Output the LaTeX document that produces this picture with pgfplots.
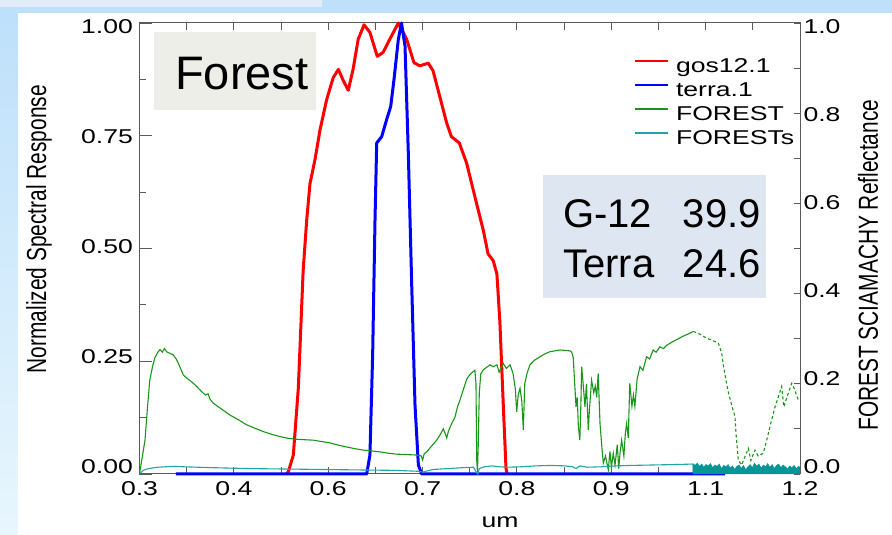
\documentclass[border=0pt]{standalone}
\usepackage{pgfplots}
\pgfplotsset{compat=1.18}
\usepackage{fontspec}
\setmainfont{Liberation Sans}
\newfontfamily\tickfont[FakeStretch=1.33]{Liberation Sans}
\newfontfamily\rotfont[FakeStretch=0.76]{Liberation Sans}
\definecolor{slideblue}{RGB}{190,224,250}
\definecolor{slidelight}{RGB}{232,246,253}
\definecolor{topstrip}{RGB}{226,236,246}
\definecolor{forestbox}{RGB}{238,238,232}
\definecolor{gbox}{RGB}{222,230,241}
\definecolor{fgreen}{RGB}{25,150,25}
\definecolor{fteal}{RGB}{30,165,165}
\definecolor{tealfill}{RGB}{0,150,150}
\definecolor{axgray}{RGB}{90,90,90}
\newcommand{\tf}{\tickfont\fontsize{20}{20}\selectfont}
\newcommand{\rf}{\rotfont\fontsize{27.5}{27.5}\selectfont}
\newcommand{\yl}[2]{\raisebox{#1}[0pt][0pt]{#2}}
\pgfplotsset{
  basestyle/.style={anchor=south west, scale only axis,
  width=660.5pt, height=451pt, xmin=0.3, xmax=1.2, ymin=0, ymax=1,
  tick style={axgray, line width=0.9pt}, tick align=inside},
}
\begin{document}
\begin{tikzpicture}
\fill[slideblue] (0pt,0pt) rectangle (892pt,535pt);
\shade[top color=slideblue, bottom color=slidelight] (0pt,0pt) rectangle (18pt,522pt);
\fill[topstrip] (0pt,528pt) rectangle (322pt,535pt);
\fill[white] (18pt,0pt) rectangle (892pt,522pt);
% main axis with data and x ticks
\begin{axis}[basestyle, at={(139.5pt,61pt)},
  clip=false, axis line style={axgray, line width=1pt},
  major tick length=7pt, minor tick length=7pt,
  xtick={0.3,0.428571,0.557143,0.685714,0.814286,0.942857,1.071429,1.2},
  xticklabels={0.3,0.4,0.6,0.7,0.8,0.9,1.1,1.2},
  minor xtick={0.364286,0.492857,0.621429,0.75,0.878571,1.007143,1.135714},
  ytick=\empty,
  xticklabel style={font=\tf, yshift=-4pt},
  xlabel={um}, xlabel style={font=\tf, at={(axis description cs:0.546,-0.106)}, anchor=center},
  legend style={at={(axis description cs:0.7487,0.925)}, anchor=north west, draw=none, fill=none,
    font=\tf, row sep=4pt, column sep=6pt, inner sep=0pt,
    nodes={inner sep=1pt, text height=14pt, text depth=4pt}},
  legend cell align=left,
  legend image code/.code={\draw[#1, line width=1.8pt] (0pt,6pt) -- (33pt,6pt);},
]
\addplot[red, line width=3pt, line join=round] coordinates {
(0.500,0) (0.5028,0.005) (0.5096,0.042) (0.5164,0.19) (0.523,0.451) (0.5278,0.5625) (0.5323,0.644)
(0.539,0.696) (0.546,0.763) (0.555,0.830) (0.564,0.879) (0.571,0.897) (0.578,0.871) (0.5845,0.851)
(0.591,0.897) (0.598,0.964) (0.606,0.996) (0.614,0.979) (0.624,0.926) (0.632,0.935) (0.641,0.964)
(0.6527,1.0) (0.664,0.964) (0.674,0.912) (0.682,0.905) (0.6935,0.911) (0.700,0.894) (0.709,0.838)
(0.7186,0.778) (0.725,0.748) (0.7358,0.734) (0.7458,0.689) (0.757,0.615) (0.7685,0.540) (0.775,0.488)
(0.782,0.473) (0.787,0.4435) (0.791,0.339) (0.7957,0.153) (0.7994,0.012) (0.801,0)
};
\addlegendentry{gos12.1}
\addplot[blue, line width=3pt, line join=round] coordinates {
(0.3497,0) (0.6096,0) (0.614,0.042) (0.6177,0.265) (0.6209,0.5625) (0.6232,0.734) (0.630,0.748)
(0.6368,0.786) (0.6423,0.815) (0.6468,0.875) (0.6527,0.964) (0.657,1.0) (0.6618,0.949) (0.6663,0.711)
(0.671,0.414) (0.6754,0.153) (0.680,0.02) (0.6845,0) (1.098,0)
};
\addlegendentry{terra.1}
\addplot[fgreen, line width=1.1pt] coordinates {
(0.300,0.000) (0.3040,0.040) (0.3075,0.075) (0.311,0.150) (0.314,0.208) (0.318,0.240) (0.321,0.258)
(0.325,0.270) (0.328,0.276) (0.331,0.270) (0.334,0.278) (0.337,0.271) (0.341,0.268) (0.346,0.264)
(0.350,0.255) (0.353,0.245) (0.3597,0.2195) (0.365,0.212) (0.372,0.203) (0.378,0.194) (0.385,0.182)
(0.390,0.175) (0.3935,0.178) (0.396,0.166) (0.4006,0.157) (0.410,0.146) (0.423,0.131) (0.435,0.120)
(0.446,0.109) (0.458,0.101) (0.4687,0.094) (0.480,0.088) (0.4914,0.083) (0.503,0.079) (0.514,0.077)
(0.525,0.076) (0.537,0.075) (0.548,0.072) (0.5596,0.069) (0.571,0.064) (0.582,0.060) (0.594,0.056)
(0.605,0.053) (0.617,0.051) (0.6277,0.049) (0.639,0.046) (0.650,0.044) (0.665,0.043) (0.6777,0.042)
(0.684,0.040) (0.6858,0.031) (0.688,0.045) (0.6913,0.049) (0.698,0.062) (0.705,0.075) (0.710,0.088)
(0.714,0.100) (0.7165,0.090) (0.7186,0.080) (0.721,0.095) (0.7254,0.112) (0.728,0.120) (0.730,0.127)
(0.7335,0.150) (0.7367,0.164) (0.741,0.186) (0.7458,0.210) (0.750,0.220) (0.754,0.226) (0.757,0.230)
(0.7585,0.200) (0.7595,0.030) (0.7605,0.005) (0.7615,0.060) (0.763,0.180) (0.765,0.222) (0.7685,0.231)
(0.7708,0.234) (0.7776,0.242) (0.782,0.238) (0.787,0.242) (0.790,0.226) (0.7957,0.245) (0.800,0.234)
(0.805,0.242) (0.809,0.223) (0.812,0.190) (0.814,0.138) (0.816,0.175) (0.8185,0.190) (0.821,0.160)
(0.823,0.098) (0.825,0.200) (0.828,0.223) (0.832,0.242) (0.838,0.252) (0.8457,0.260) (0.852,0.266)
(0.859,0.271) (0.866,0.273) (0.873,0.275) (0.880,0.274) (0.8866,0.273) (0.889,0.270) (0.891,0.258)
(0.893,0.200) (0.8948,0.149) (0.8965,0.170) (0.898,0.105) (0.900,0.075) (0.9015,0.160) (0.9025,0.238)
(0.905,0.190) (0.907,0.149) (0.909,0.200) (0.9115,0.098) (0.913,0.140) (0.916,0.208) (0.919,0.180)
(0.921,0.195) (0.923,0.170) (0.925,0.223) (0.9275,0.112) (0.930,0.060) (0.932,0.024) (0.935,0.040)
(0.9388,0.009) (0.941,0.050) (0.943,0.015) (0.9456,0.046) (0.948,0.020) (0.951,0.065) (0.953,0.012)
(0.955,0.050) (0.957,0.075) (0.960,0.040) (0.962,0.090) (0.9638,0.112) (0.966,0.080) (0.968,0.201)
(0.971,0.150) (0.973,0.175) (0.975,0.150) (0.978,0.210) (0.982,0.238) (0.986,0.230) (0.991,0.260)
(0.995,0.255) (1.000,0.275) (1.004,0.270) (1.009,0.282) (1.014,0.278) (1.018,0.285) (1.025,0.292)
(1.032,0.298) (1.040,0.305) (1.047,0.310) (1.0546,0.316)
};
\addlegendentry{FOREST}
\addplot[fteal, line width=1.1pt] coordinates {
(0.300,0.0) (0.305,0.008) (0.312,0.012) (0.325,0.015) (0.345,0.017) (0.36,0.016) (0.40,0.014)
(0.45,0.012) (0.50,0.011) (0.55,0.010) (0.60,0.009) (0.65,0.008) (0.68,0.006) (0.686,0.004)
(0.69,0.006) (0.70,0.010) (0.72,0.012) (0.74,0.014) (0.755,0.015) (0.759,0.004) (0.761,0.0)
(0.763,0.012) (0.77,0.016) (0.78,0.018) (0.79,0.016) (0.80,0.015) (0.82,0.016) (0.84,0.018)
(0.86,0.019) (0.88,0.018) (0.89,0.016) (0.895,0.012) (0.90,0.018) (0.91,0.015) (0.93,0.016)
(0.95,0.018) (0.97,0.019) (1.0,0.020) (1.03,0.021) (1.054,0.022)
};
\addlegendentry{FORESTs}
\addplot[fgreen, line width=1.1pt, dash pattern=on 3pt off 2.5pt, forget plot] coordinates {
(1.0546,0.316) (1.0614,0.312) (1.0729,0.301) (1.0797,0.297) (1.0887,0.290) (1.0933,0.268)
(1.0955,0.242) (1.0991,0.208) (1.1023,0.182) (1.1069,0.153) (1.1114,0.127) (1.1128,0.090)
(1.1159,0.031) (1.1205,0.020) (1.1296,0.057) (1.133,0.030) (1.1387,0.053) (1.143,0.040)
(1.150,0.046) (1.1546,0.075) (1.1614,0.120) (1.166,0.149) (1.1705,0.171) (1.175,0.194)
(1.178,0.149) (1.184,0.179) (1.1887,0.201) (1.192,0.190) (1.1977,0.164)
};
\addplot[draw=tealfill, fill=tealfill, line width=0.5pt, forget plot] coordinates {
(1.054,0) (1.054,0.023) (1.057,0.019) (1.060,0.024) (1.063,0.017) (1.066,0.022) (1.069,0.015)
(1.072,0.021) (1.075,0.018) (1.078,0.023) (1.081,0.014) (1.084,0.020) (1.087,0.017) (1.090,0.022)
(1.093,0.012) (1.096,0.019) (1.099,0.016) (1.102,0.021) (1.105,0.013) (1.108,0.018) (1.111,0.010)
(1.114,0.017) (1.117,0.020) (1.120,0.012) (1.123,0.019) (1.126,0.009) (1.129,0.016) (1.132,0.021)
(1.135,0.014) (1.138,0.024) (1.141,0.017) (1.144,0.022) (1.147,0.013) (1.150,0.020) (1.153,0.016)
(1.156,0.023) (1.159,0.015) (1.162,0.021) (1.165,0.012) (1.168,0.019) (1.171,0.022) (1.174,0.014)
(1.177,0.020) (1.180,0.016) (1.183,0.011) (1.186,0.018) (1.189,0.014) (1.192,0.019) (1.195,0.012)
(1.198,0.017) (1.2,0.015) (1.2,0)
} -- cycle;
\end{axis}
% left y axis
\begin{axis}[basestyle, at={(139.5pt,61pt)},
  hide x axis, axis y line*=left, axis line style={axgray, line width=1pt, -},
  major tick length=12pt, minor tick length=6pt,
  ytick={0,0.25,0.5,0.75,1},
  yticklabels={\yl{0pt}{0.00},\yl{-2.75pt}{0.25},\yl{-5.5pt}{0.50},\yl{-8.25pt}{0.75},\yl{-11pt}{1.00}},
  minor ytick={0.125,0.375,0.625,0.875},
  yticklabel style={font=\tf, anchor=east, xshift=-3pt},
  ylabel={Normalized Spectral Response},
  ylabel style={font=\rf, at={(axis description cs:-0.152,0.543)}, anchor=center},
]
\end{axis}
% right y axis
\begin{axis}[basestyle, at={(139.5pt,61pt)},
  hide x axis, axis y line*=right, axis line style={axgray, line width=1pt, -},
  major tick length=6pt, minor tick length=6pt,
  ytick={0,0.2,0.4,0.6,0.8,1},
  yticklabels={\yl{0pt}{0.0},\yl{-2.2pt}{0.2},\yl{-4.4pt}{0.4},\yl{-6.6pt}{0.6},\yl{-8.8pt}{0.8},\yl{-11pt}{1.0}},
  minor ytick={0.1,0.3,0.5,0.7,0.9},
  yticklabel style={font=\tf, anchor=west},
  ylabel={FOREST SCIAMACHY Reflectance},
  ylabel style={font=\rf, at={(axis description cs:1.103,0.463)}, anchor=center},
]
\end{axis}
% annotation boxes
\fill[forestbox] (154pt,425pt) rectangle (316pt,503pt);
\node[anchor=base west, inner sep=0pt, font=\fontsize{47}{47}\selectfont] at (175pt,445pt) {Forest};
\fill[gbox] (543pt,237pt) rectangle (766pt,360pt);
\node[anchor=base west, inner sep=0pt, font=\fontsize{40}{40}\selectfont] at (563pt,307pt) {G-12};
\node[anchor=base east, inner sep=0pt, font=\fontsize{40}{40}\selectfont] at (761pt,307pt) {39.9};
\node[anchor=base west, inner sep=0pt, font=\fontsize{40}{40}\selectfont] at (563pt,257pt) {Terra};
\node[anchor=base east, inner sep=0pt, font=\fontsize{40}{40}\selectfont] at (761pt,257pt) {24.6};
\end{tikzpicture}
\end{document}
